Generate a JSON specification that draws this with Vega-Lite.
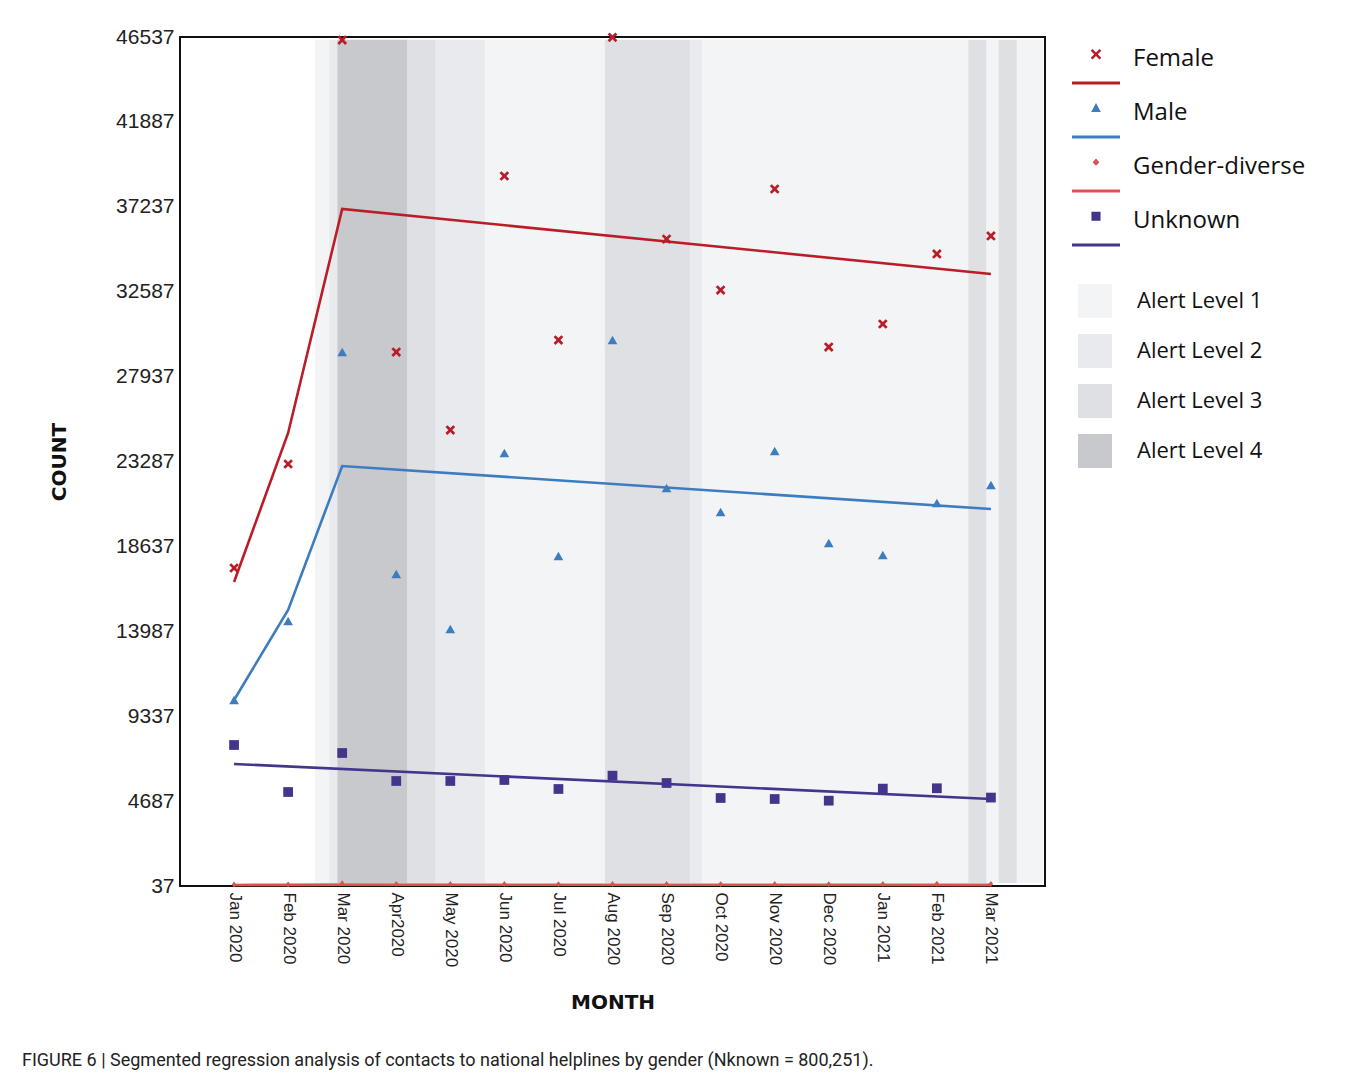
{
  "$schema": "https://vega.github.io/schema/vega-lite/v6.json",
  "width": 865,
  "height": 849,
  "autosize": {"type": "none"},
  "padding": {"left": 180, "top": 37, "right": 312, "bottom": 195},
  "background": "white",
  "title": {
    "text": "FIGURE 6 | Segmented regression analysis of contacts to national helplines by gender (Nknown = 800,251).",
    "orient": "bottom",
    "anchor": "start",
    "frame": "group",
    "dx": -158,
    "offset": 39,
    "font": "Liberation Sans Narrow, Roboto, Liberation Sans",
    "fontSize": 18,
    "fontWeight": "normal",
    "color": "#222222"
  },
  "config": {
    "view": {"stroke": "#111111", "strokeWidth": 2},
    "axis": {"grid": false, "ticks": false, "domain": false}
  },
  "datasets": {
    "bands": [
      {"s": 1.5, "e": 1.76, "level": "Alert Level 1"},
      {"s": 1.76, "e": 1.91, "level": "Alert Level 2"},
      {"s": 1.91, "e": 3.21, "level": "Alert Level 4"},
      {"s": 3.21, "e": 3.73, "level": "Alert Level 3"},
      {"s": 3.73, "e": 4.64, "level": "Alert Level 2"},
      {"s": 4.64, "e": 6.86, "level": "Alert Level 1"},
      {"s": 6.86, "e": 8.44, "level": "Alert Level 3"},
      {"s": 8.44, "e": 8.66, "level": "Alert Level 2"},
      {"s": 8.66, "e": 13.58, "level": "Alert Level 1"},
      {"s": 13.58, "e": 13.92, "level": "Alert Level 3"},
      {"s": 13.92, "e": 14.14, "level": "Alert Level 1"},
      {"s": 14.14, "e": 14.48, "level": "Alert Level 3"},
      {"s": 14.48, "e": 14.97, "level": "Alert Level 1"}
    ],
    "fit": [
      {"m": 0, "series": "Female", "value": 16687},
      {"m": 1, "series": "Female", "value": 24848},
      {"m": 2, "series": "Female", "value": 37116},
      {"m": 14, "series": "Female", "value": 33557},
      {"m": 0, "series": "Male", "value": 10224},
      {"m": 1, "series": "Male", "value": 15154},
      {"m": 2, "series": "Male", "value": 23040},
      {"m": 14, "series": "Male", "value": 20685},
      {"m": 0, "series": "Gender-diverse", "value": 95},
      {"m": 1, "series": "Gender-diverse", "value": 100},
      {"m": 2, "series": "Gender-diverse", "value": 110},
      {"m": 14, "series": "Gender-diverse", "value": 100},
      {"m": 0, "series": "Unknown", "value": 6719},
      {"m": 14, "series": "Unknown", "value": 4802}
    ],
    "pts": [
      {"m": 0, "series": "Female", "value": 17454},
      {"m": 1, "series": "Female", "value": 23150},
      {"m": 2, "series": "Female", "value": 46372},
      {"m": 3, "series": "Female", "value": 29284},
      {"m": 4, "series": "Female", "value": 25012},
      {"m": 5, "series": "Female", "value": 38924},
      {"m": 6, "series": "Female", "value": 29941},
      {"m": 7, "series": "Female", "value": 46520},
      {"m": 8, "series": "Female", "value": 35473},
      {"m": 9, "series": "Female", "value": 32680},
      {"m": 10, "series": "Female", "value": 38212},
      {"m": 11, "series": "Female", "value": 29558},
      {"m": 12, "series": "Female", "value": 30818},
      {"m": 13, "series": "Female", "value": 34652},
      {"m": 14, "series": "Female", "value": 35638},
      {"m": 0, "series": "Male", "value": 10224},
      {"m": 1, "series": "Male", "value": 14551},
      {"m": 2, "series": "Male", "value": 29284},
      {"m": 3, "series": "Male", "value": 17125},
      {"m": 4, "series": "Male", "value": 14113},
      {"m": 5, "series": "Male", "value": 23752},
      {"m": 6, "series": "Male", "value": 18111},
      {"m": 7, "series": "Male", "value": 29941},
      {"m": 8, "series": "Male", "value": 21835},
      {"m": 9, "series": "Male", "value": 20521},
      {"m": 10, "series": "Male", "value": 23862},
      {"m": 11, "series": "Male", "value": 18823},
      {"m": 12, "series": "Male", "value": 18166},
      {"m": 13, "series": "Male", "value": 21014},
      {"m": 14, "series": "Male", "value": 22000},
      {"m": 0, "series": "Gender-diverse", "value": 120},
      {"m": 1, "series": "Gender-diverse", "value": 130},
      {"m": 2, "series": "Gender-diverse", "value": 190},
      {"m": 3, "series": "Gender-diverse", "value": 150},
      {"m": 4, "series": "Gender-diverse", "value": 150},
      {"m": 5, "series": "Gender-diverse", "value": 150},
      {"m": 6, "series": "Gender-diverse", "value": 140},
      {"m": 7, "series": "Gender-diverse", "value": 150},
      {"m": 8, "series": "Gender-diverse", "value": 150},
      {"m": 9, "series": "Gender-diverse", "value": 140},
      {"m": 10, "series": "Gender-diverse", "value": 150},
      {"m": 11, "series": "Gender-diverse", "value": 140},
      {"m": 12, "series": "Gender-diverse", "value": 150},
      {"m": 13, "series": "Gender-diverse", "value": 160},
      {"m": 14, "series": "Gender-diverse", "value": 150},
      {"m": 0, "series": "Unknown", "value": 7760},
      {"m": 1, "series": "Unknown", "value": 5185},
      {"m": 2, "series": "Unknown", "value": 7321},
      {"m": 3, "series": "Unknown", "value": 5788},
      {"m": 4, "series": "Unknown", "value": 5788},
      {"m": 5, "series": "Unknown", "value": 5843},
      {"m": 6, "series": "Unknown", "value": 5350},
      {"m": 7, "series": "Unknown", "value": 6080},
      {"m": 8, "series": "Unknown", "value": 5678},
      {"m": 9, "series": "Unknown", "value": 4857},
      {"m": 10, "series": "Unknown", "value": 4802},
      {"m": 11, "series": "Unknown", "value": 4710},
      {"m": 12, "series": "Unknown", "value": 5370},
      {"m": 13, "series": "Unknown", "value": 5390},
      {"m": 14, "series": "Unknown", "value": 4880}
    ]
  },
  "layer": [
    {
      "data": {"name": "bands"},
      "mark": {"type": "rect", "opacity": 1},
      "encoding": {
        "x": {"field": "s", "type": "quantitative", "scale": {"domain": [-1, 15], "nice": false, "zero": false}},
        "x2": {"field": "e"},
        "y": {"datum": 46380, "type": "quantitative"},
        "y2": {"datum": 200},
        "fill": {
          "field": "level",
          "type": "nominal",
          "scale": {
            "domain": ["Alert Level 1", "Alert Level 2", "Alert Level 3", "Alert Level 4"],
            "range": ["#f3f4f6", "#e9eaed", "#dfe0e3", "#c8c9cc"]
          },
          "legend": {
            "title": null,
            "orient": "none",
            "legendX": 898,
            "legendY": 247,
            "padding": 0,
            "symbolType": "square",
            "symbolSize": 1156,
            "symbolStrokeWidth": 0,
            "symbolOpacity": 1,
            "labelOffset": 25,
            "labelFont": "Open Sans",
            "labelFontSize": 22,
            "labelColor": "#111111",
            "rowPadding": 16
          }
        }
      }
    },
    {
      "data": {"name": "fit"},
      "mark": {"type": "line", "strokeWidth": 2.6},
      "encoding": {
        "x": {"field": "m", "type": "quantitative"},
        "y": {"field": "value", "type": "quantitative"},
        "detail": {"field": "series"},
        "stroke": {
          "field": "series",
          "type": "nominal",
          "scale": {
            "domain": ["Female", "Male", "Gender-diverse", "Unknown"],
            "range": ["#b91e28", "#3d7dbf", "#d9534f", "#43358c"]
          },
          "legend": {
            "title": null,
            "orient": "none",
            "legendX": 892,
            "legendY": -2,
            "padding": 0,
            "symbolSize": 2304,
            "symbolStrokeWidth": 0,
            "symbolOpacity": 1,
            "labelOffset": 13,
            "labelLimit": 400,
            "labelFont": "Open Sans",
            "labelFontSize": 24,
            "labelColor": "#111111",
            "rowPadding": 4,
            "encoding": {
              "symbols": {
                "shape": {"value": {"expr": "datum.value === 'Female' ? 'M-0.22,-0.345L-0.145,-0.42L0,-0.275L0.145,-0.42L0.22,-0.345L0.075,-0.2L0.22,-0.055L0.145,0.02L0,-0.125L-0.145,0.02L-0.22,-0.055L-0.075,-0.2ZM-1,0.94L1,0.94L1,1.06L-1,1.06Z' : datum.value === 'Male' ? 'M0,-0.42L0.2,-0.04L-0.2,-0.04ZM-1,0.94L1,0.94L1,1.06L-1,1.06Z' : datum.value === 'Gender-diverse' ? 'M0,-0.35L0.14,-0.2L0,-0.05L-0.14,-0.2ZM-1,0.94L1,0.94L1,1.06L-1,1.06Z' : 'M-0.19,-0.39L0.19,-0.39L0.19,-0.01L-0.19,-0.01ZM-1,0.94L1,0.94L1,1.06L-1,1.06Z'"}},
                "fill": {"value": {"expr": "scale('stroke', datum.value)"}},
                "size": {"value": 2304},
                "strokeWidth": {"value": 0},
                "opacity": {"value": 1}
              }
            }
          }
        }
      }
    },
    {
      "data": {"name": "pts"},
      "mark": {"type": "point", "filled": true, "opacity": 1, "strokeWidth": 0, "size": 95},
      "encoding": {
        "x": {
          "field": "m",
          "type": "quantitative",
          "axis": {
            "title": "MONTH",
            "values": [0, 1, 2, 3, 4, 5, 6, 7, 8, 9, 10, 11, 12, 13, 14],
            "labelExpr": "['Jan 2020','Feb 2020','Mar 2020','Apr2020','May 2020','Jun 2020','Jul 2020','Aug 2020','Sep 2020','Oct 2020','Nov 2020','Dec 2020','Jan 2021','Feb 2021','Mar 2021'][datum.value]",
            "labelAngle": 90,
            "labelPadding": 6,
            "labelFont": "Liberation Sans",
            "labelFontSize": 17,
            "labelColor": "#222222",
            "labelOverlap": false,
            "labelFlush": false,
            "titleFont": "DejaVu Sans",
            "titleFontSize": 20,
            "titleFontWeight": "bold",
            "titleColor": "#111111",
            "titlePadding": 26
          }
        },
        "y": {
          "field": "value",
          "type": "quantitative",
          "scale": {"domain": [37, 46537], "nice": false, "zero": false},
          "axis": {
            "title": "COUNT",
            "values": [37, 4687, 9337, 13987, 18637, 23287, 27937, 32587, 37237, 41887, 46537],
            "format": "d",
            "labelPadding": 6,
            "labelFont": "Liberation Sans",
            "labelFontSize": 21,
            "labelColor": "#222222",
            "labelOverlap": false,
            "labelFlush": false,
            "titleFont": "DejaVu Sans",
            "titleFontSize": 20,
            "titleFontWeight": "bold",
            "titleColor": "#111111",
            "titlePadding": 46
          }
        },
        "color": {
          "condition": [
            {"test": "datum.series === 'Female'", "value": "#b91e28"},
            {"test": "datum.series === 'Male'", "value": "#3d7dbf"},
            {"test": "datum.series === 'Gender-diverse'", "value": "#d9534f"}
          ],
          "value": "#43358c"
        },
        "shape": {
          "condition": [
            {"test": "datum.series === 'Female'", "value": "M-1,-0.6L-0.6,-1L0,-0.4L0.6,-1L1,-0.6L0.4,0L1,0.6L0.6,1L0,0.4L-0.6,1L-1,0.6L-0.4,0Z"},
            {"test": "datum.series === 'Male'", "value": "triangle-up"},
            {"test": "datum.series === 'Gender-diverse'", "value": "M0,-0.6L0.45,0L0,0.6L-0.45,0Z"}
          ],
          "value": "square"
        }
      }
    }
  ]
}
